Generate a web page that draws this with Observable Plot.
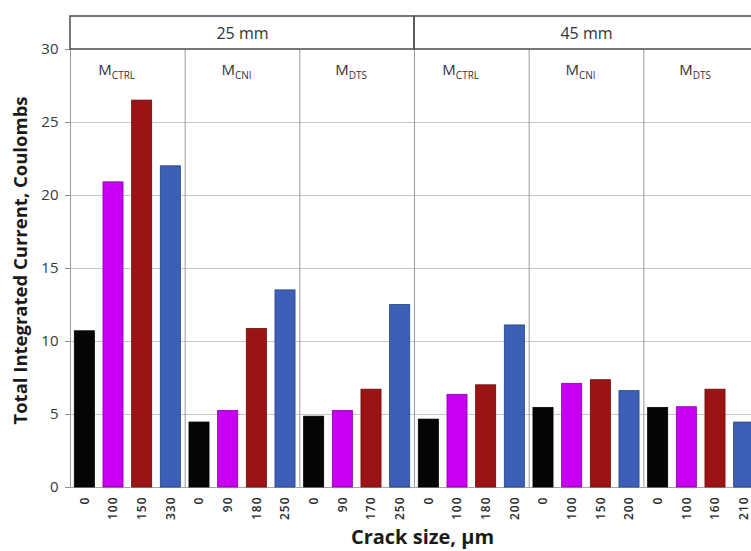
<!DOCTYPE html>
<html>
<head>
<meta charset="utf-8">
<script src="https://cdn.jsdelivr.net/npm/d3@7"></script>
<script src="https://cdn.jsdelivr.net/npm/@observablehq/plot@0.6"></script>
<style>
  html, body { margin: 0; padding: 0; background: #fff; overflow: hidden; }
  #chart { width: 751px; overflow: hidden; }
  #chart svg { display: block; max-width: none !important; height: 551px !important; }
</style>
</head>
<body>
<div id="chart"></div>
<script>
// Specimen thickness groups and mix designs
const sizes = ["25 mm", "45 mm"];
const mixes = ["CTRL", "CNI", "DTS"];

// Crack widths (µm) for each size × mix group, in drawing order
const crackSizes = [
  [0, 100, 150, 330],
  [0, 90, 180, 250],
  [0, 90, 170, 250],
  [0, 100, 180, 200],
  [0, 100, 150, 200],
  [0, 100, 160, 210]
];

// Total integrated current (Coulombs) for the same bars
const current = [
  [10.7, 20.9, 26.5, 22.0],
  [4.45, 5.25, 10.85, 13.5],
  [4.85, 5.25, 6.7, 12.5],
  [4.65, 6.35, 7.0, 11.1],
  [5.45, 7.1, 7.35, 6.6],
  [5.45, 5.5, 6.7, 4.45]
];

const yTicks = [0, 5, 10, 15, 20, 25, 30];

// Bar colour by position within a group
const barFill = ["#050505", "#c800f2", "#9c1313", "#3c60b8"];
const barStroke = ["#000000", "#8a00a8", "#6a0a0a", "#24407e"];

const perGroup = 4;
const groups = [];
sizes.forEach((s, si) => mixes.forEach((m, mi) => groups.push({size: s, mix: m, g: si * mixes.length + mi})));

const rows = [];
groups.forEach(({g}) => {
  crackSizes[g].forEach((c, k) => {
    rows.push({pos: g * perGroup + k, crack: c, value: current[g][k], k});
  });
});

const nBars = rows.length;
const dividers = groups.map(d => d.g * perGroup - 0.5);
const half = 0.35;

const font = "'Open Sans', sans-serif";

const plot = Plot.plot({
  width: 758,
  height: 551,
  marginLeft: 70,
  marginRight: 0,
  marginTop: 49,
  marginBottom: 64,
  style: {fontFamily: font, background: "#fff", overflow: "visible", maxWidth: "none"},
  x: {domain: [-0.5, nBars - 0.5], axis: null},
  y: {domain: [0, 30], axis: null},
  marks: [
    // horizontal gridlines
    Plot.ruleY(yTicks.filter(t => t > 0 && t < 30), {stroke: "#c6c6c6", strokeWidth: 1}),
    // group separators and left axis line
    Plot.ruleX(dividers, {x: d => d, y1: 0, y2: 30, stroke: "#9c9c9c", strokeWidth: 1}),
    // baseline
    Plot.ruleY([0], {stroke: "#a8a8a8", strokeWidth: 1}),
    // bars
    Plot.rect(rows, {
      x1: d => d.pos - half,
      x2: d => d.pos + half,
      y1: 0,
      y2: "value",
      fill: d => barFill[d.k],
      stroke: d => barStroke[d.k],
      strokeWidth: 0.8
    }),
    // y axis
    Plot.axisY(yTicks, {
      tickSize: 5,
      tickPadding: 7,
      fontSize: 15,
      fill: "#383838",
      stroke: "#8c8c8c",
      label: null
    }),
    // crack-size tick labels
    Plot.text(rows, {
      x: "pos",
      y: 0,
      text: d => String(d.crack),
      rotate: -90,
      textAnchor: "end",
      dy: 9,
      fontSize: 12,
      fontWeight: 600,
      fill: "#2a2a2a",
      className: "crack-label"
    }),
    // size header boxes
    Plot.rect(sizes, {
      x1: (d, i) => i * mixes.length * perGroup - 0.5,
      x2: (d, i) => (i + 1) * mixes.length * perGroup - 0.5,
      y1: 30,
      y2: 30,
      insetTop: -33,
      fill: "none",
      stroke: "#555",
      strokeWidth: 1.6
    }),
    Plot.text(sizes, {
      x: (d, i) => i * mixes.length * perGroup + (mixes.length * perGroup - 1) / 2,
      y: 30,
      dy: -16,
      text: d => d,
      fontSize: 16,
      fill: "#333"
    }),
    // mix labels (subscript added below); the longer CTRL label sits a little left
    Plot.text(groups, {
      x: d => d.g * perGroup + (perGroup - 1) / 2 - (d.mix === "CTRL" ? 0.18 : 0),
      y: 30,
      dy: 21,
      dx: -6,
      text: "mix",
      fontSize: 15,
      fill: "#333",
      className: "mix-label"
    }),
    // axis titles
    Plot.text(["Total Integrated Current, Coulombs"], {
      frameAnchor: "left",
      textAnchor: "middle",
      lineAnchor: "middle",
      rotate: -90,
      dx: -49,
      dy: -8,
      text: d => d,
      fontSize: 18.5,
      fontWeight: "bold",
      fill: "#1a1a1a"
    }),
    Plot.text(["Crack size, µm"], {
      frameAnchor: "bottom",
      textAnchor: "middle",
      lineAnchor: "middle",
      dx: 8,
      dy: 50,
      text: d => d,
      fontSize: 20,
      fontWeight: "bold",
      fill: "#1a1a1a"
    })
  ]
});

// Write mix labels as M with a subscripted mix code
d3.select(plot).selectAll("g.mix-label text").each(function() {
  const code = this.textContent;
  const t = d3.select(this);
  t.text("M");
  t.append("tspan").attr("dy", "0.35em").attr("font-size", 10).text(code);
});

// Slightly open up the rotated crack-size labels
d3.select(plot).selectAll("g.crack-label text").attr("letter-spacing", 1);

document.getElementById("chart").append(plot);
</script>
</body>
</html>
